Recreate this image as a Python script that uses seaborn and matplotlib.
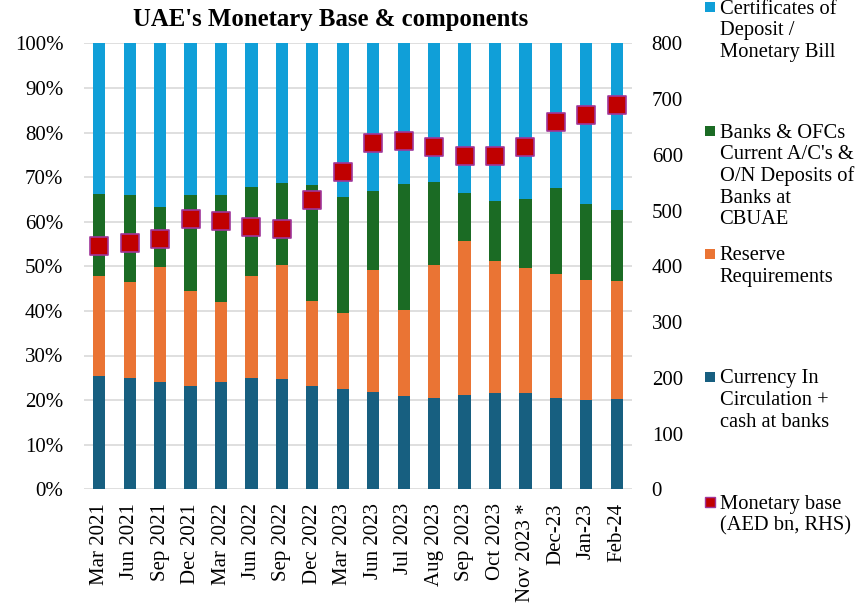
import numpy as np
import pandas as pd
import matplotlib
matplotlib.use("Agg")
import matplotlib.pyplot as plt
import matplotlib.patches as mpatches
import seaborn as sns

categories = ["Mar 2021", "Jun 2021", "Sep 2021", "Dec 2021", "Mar 2022", "Jun 2022",
              "Sep 2022", "Dec 2022", "Mar 2023", "Jun 2023", "Jul 2023", "Aug 2023",
              "Sep 2023", "Oct 2023", "Nov 2023 *", "Dec-23", "Jan-23", "Feb-24"]

currency = [25.4, 25.0, 24.1, 23.1, 24.1, 25.0, 24.7, 23.1, 22.6, 21.9, 20.9, 20.5,
            21.2, 21.6, 21.7, 20.5, 20.1, 20.2]
reserve = [22.4, 21.4, 25.7, 21.4, 17.8, 22.9, 25.7, 19.1, 16.9, 27.3, 19.3, 29.7,
           34.5, 29.6, 28.0, 27.7, 26.8, 26.4]
banks = [18.4, 19.6, 13.6, 21.5, 24.1, 19.9, 18.3, 26.0, 26.0, 17.6, 28.3, 18.8,
         10.7, 13.4, 15.5, 19.4, 17.1, 16.0]
certificates = [33.8, 34.0, 36.6, 34.0, 34.0, 32.2, 31.3, 31.8, 34.5, 33.2, 31.5, 31.0,
                33.6, 35.4, 34.8, 32.4, 36.0, 37.4]
monetary_base = [437, 442, 449, 484, 481, 471, 467, 519, 569, 622, 624, 614,
                 597, 597, 614, 659, 671, 690]

left_ticks = [0, 10, 20, 30, 40, 50, 60, 70, 80, 90, 100]
right_ticks = [0, 100, 200, 300, 400, 500, 600, 700, 800]

C_CD = "#109fd8"
C_BANK = "#1b6b24"
C_RES = "#ea7434"
C_CUR = "#175f80"
C_MB = "#c00000"
C_MB_EDGE = "#a0369a"

sns.set_theme(style="white")
plt.rcParams["font.family"] = ["Liberation Serif", "DejaVu Serif"]

W, H = 856, 606
fig = plt.figure(figsize=(W / 100, H / 100), dpi=100)
ax = fig.add_axes([84 / W, 1 - 489.3 / H, 548 / W, 446 / H])

df = pd.DataFrame({"cat": categories, "cur": currency, "res": reserve,
                   "bank": banks, "cd": certificates})
tot = df[["cur", "res", "bank", "cd"]].sum(axis=1)
for c in ["cur", "res", "bank", "cd"]:
    df[c] = df[c] / tot * 100
df["l1"] = df["cur"]
df["l2"] = df["l1"] + df["res"]
df["l3"] = df["l2"] + df["bank"]
df["l4"] = df["l3"] + df["cd"]

for col, colr in [("l4", C_CD), ("l3", C_BANK), ("l2", C_RES), ("l1", C_CUR)]:
    sns.barplot(data=df, x="cat", y=col, color=colr, width=0.40, ax=ax,
                saturation=1, linewidth=0, order=categories)

ax.set_xlim(-0.5, len(categories) - 0.5)
ax.set_ylim(0, 100)
ax.set_yticks(left_ticks)
ax.set_yticklabels([f"{t}%" for t in left_ticks])
ax.set_xlabel("")
ax.set_ylabel("")
ax.set_axisbelow(True)
ax.yaxis.grid(True, color="#d9d9d9", linewidth=1.2)
ax.xaxis.grid(False)
for s in ax.spines.values():
    s.set_visible(False)
ax.tick_params(axis="y", length=0, pad=14.9, labelsize=15, colors="black")
ax.tick_params(axis="x", length=0, pad=9.9, labelsize=15, colors="black")
ax.set_xticks(range(len(categories)))
ax.set_xticklabels(categories, rotation=90, va="top", ha="center")

ax2 = ax.twinx()
sns.scatterplot(x=np.arange(len(categories)), y=monetary_base, marker="s", s=185,
                color=C_MB, edgecolor=C_MB_EDGE, linewidth=1.2, ax=ax2,
                legend=False, zorder=5)
ax2.set_ylim(0, 800)
ax2.set_yticks(right_ticks)
ax2.set_yticklabels([str(t) for t in right_ticks])
ax2.set_ylabel("")
ax2.grid(False)
for s in ax2.spines.values():
    s.set_visible(False)
ax2.tick_params(axis="y", length=0, pad=14.2, labelsize=15, colors="black")

fig.text(331 / W, 1 - 26 / H, "UAE's Monetary Base & components", ha="center",
         va="baseline", fontsize=17.8, fontweight="bold", color="black")

legend_entries = [
    (["Certificates of", "Deposit /", "Monetary Bill"], C_CD, None, 7),
    (["Banks & OFCs", "Current A/C's &", "O/N Deposits of", "Banks at", "CBUAE"], C_BANK, None, 131),
    (["Reserve", "Requirements"], C_RES, None, 254),
    (["Currency In", "Circulation +", "cash at banks"], C_CUR, None, 377),
    (["Monetary base", "(AED bn, RHS)"], C_MB, C_MB_EDGE, 502),
]
step = 21.7
for lines, colr, edge, yc in legend_entries:
    rect = mpatches.Rectangle((705 / W, 1 - (yc + 5) / H), 10 / W, 10 / H,
                              transform=fig.transFigure, facecolor=colr,
                              edgecolor=edge if edge else colr,
                              linewidth=1.0 if edge else 0)
    fig.patches.append(rect)
    for k, ln in enumerate(lines):
        fig.text(719.5 / W, 1 - (yc + 6.5 + k * step) / H, ln, ha="left",
                 va="baseline", fontsize=14.8, color="black")

fig.savefig("out.png", dpi=100)
